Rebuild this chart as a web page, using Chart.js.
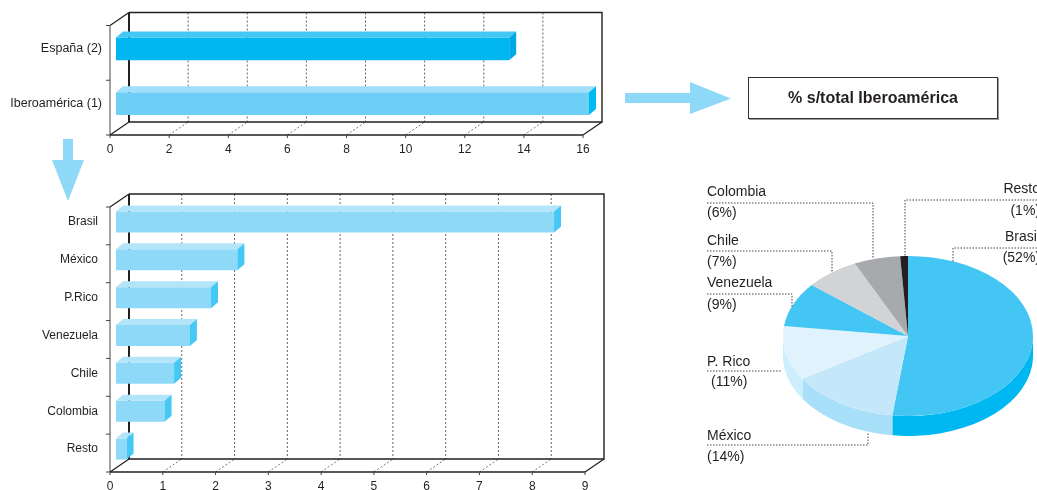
<!DOCTYPE html>
<html>
<head>
<meta charset="utf-8">
<script src="https://cdn.jsdelivr.net/npm/chart.js@4.4.1/dist/chart.umd.min.js"></script>
<style>
  html, body { margin: 0; padding: 0; background: #fff; overflow: hidden; }
  #wrap { position: relative; width: 1037px; height: 490px; overflow: hidden; }
  #wrap canvas, #wrap svg { position: absolute; left: 0; top: 0; }
  .title {
    position: absolute; left: 748px; top: 77px; width: 250px; height: 42px;
    box-sizing: border-box; border: 1px solid #333; background: #fff;
    font: bold 16px "Liberation Sans", Arial, sans-serif; color: #231f20;
    display: flex; align-items: center; justify-content: center;
    box-shadow: 1px 1px 0 #999;
  }
</style>
</head>
<body>
<div id="wrap">
  <svg width="1037" height="490">
    <polygon points="625,93 690,93 690,82 731,98.5 690,114 690,103 625,103" fill="#8ed8f8"/>
    <polygon points="63,139 73,139 73,160 84,160 68,201 52,160 63,160" fill="#8ed8f8"/>
  </svg>
  <canvas id="totals" width="1037" height="490"></canvas>
  <canvas id="countries" width="1037" height="500"></canvas>
  <canvas id="shares" width="1037" height="490"></canvas>
  <div class="title">% s/total Iberoamérica</div>
</div>
<script>
// ---- data ----
const totalLabels = ['España (2)', 'Iberoamérica (1)'];
const totalValues = [13.3, 16.0];
const totalAxisMax = 16;
const totalAxisStep = 2;

const countryLabels = ['Brasil', 'México', 'P.Rico', 'Venezuela', 'Chile', 'Colombia', 'Resto'];
const countryValues = [8.3, 2.3, 1.8, 1.4, 1.1, 0.92, 0.2];
const countryAxisMax = 9;
const countryAxisStep = 1;

const shareLabels = ['Brasil', 'México', 'P. Rico', 'Venezuela', 'Chile', 'Colombia', 'Resto'];
const shareValues = [52, 14, 11, 9, 7, 6, 1];

// ---- styling ----
const FONT = '"Liberation Sans", Arial, sans-serif';
const INK = '#231f20';
const FRONT = { dx: -6, dy: 4 };   // front plane relative to bar faces
const BACK = { dx: 13, dy: -9 };   // back wall relative to bar faces
const BAR_DEPTH = { dx: 7, dy: -6 };

function line(ctx, pts, width, color, dash) {
  ctx.save();
  ctx.beginPath();
  ctx.moveTo(pts[0][0], pts[0][1]);
  for (let i = 1; i < pts.length; i++) ctx.lineTo(pts[i][0], pts[i][1]);
  ctx.lineWidth = width;
  ctx.strokeStyle = color;
  ctx.setLineDash(dash || []);
  ctx.stroke();
  ctx.restore();
}

function poly(ctx, pts, color) {
  ctx.beginPath();
  ctx.moveTo(pts[0][0], pts[0][1]);
  for (let i = 1; i < pts.length; i++) ctx.lineTo(pts[i][0], pts[i][1]);
  ctx.closePath();
  ctx.fillStyle = color;
  ctx.fill();
}

// 3D box frame around a horizontal bar chart, and top/side faces on each bar
function box3d(topColors, sideColors) {
  return {
    id: 'box3d',
    beforeDatasetsDraw(chart) {
      const ctx = chart.ctx, ca = chart.chartArea, xs = chart.scales.x;
      const n = chart.data.labels.length;
      const Lf = ca.left + FRONT.dx, Rf = ca.right + FRONT.dx;
      const Tf = ca.top + FRONT.dy, Bf = ca.bottom + FRONT.dy;
      const Lb = ca.left + BACK.dx, Rb = ca.right + BACK.dx;
      const Tb = ca.top + BACK.dy, Bb = ca.bottom + BACK.dy;
      // grid lines on the back wall and the floor
      xs.ticks.forEach(t => {
        if (t.value <= xs.min || t.value >= xs.max) return;
        const p = xs.getPixelForValue(t.value);
        line(ctx, [[p + BACK.dx, Tb], [p + BACK.dx, Bb]], 1, '#666', [2, 2]);
        line(ctx, [[p + FRONT.dx, Bf], [p + BACK.dx, Bb]], 1, '#777', [2, 2]);
      });
      // back wall
      line(ctx, [[Lb, Bb], [Rb, Bb], [Rb, Tb], [Lb, Tb]], 1.4, INK);
      line(ctx, [[Lb, Tb], [Lb, Bb]], 2, INK);
      // side and floor edges
      line(ctx, [[Lf, Tf], [Lb, Tb]], 1.2, INK);
      line(ctx, [[Lf, Bf], [Lb, Bb]], 1.2, INK);
      line(ctx, [[Rf, Bf], [Rb, Bb]], 1.2, INK);
      line(ctx, [[Lf, Tf], [Lf, Bf]], 1, '#444');
      line(ctx, [[Lf, Bf], [Rf, Bf]], 1.5, INK);
      // tick marks
      for (let i = 0; i <= n; i++) {
        const y = Tf + i * (ca.height / n);
        line(ctx, [[Lf - 4, y], [Lf, y]], 1, '#444');
      }
      xs.ticks.forEach(t => {
        const p = xs.getPixelForValue(t.value) + FRONT.dx;
        line(ctx, [[p, Bf], [p, Bf + 3]], 1, '#444');
      });
    },
    afterDatasetsDraw(chart) {
      const ctx = chart.ctx;
      chart.getDatasetMeta(0).data.forEach((el, i) => {
        const { x, y, base, height } = el.getProps(['x', 'y', 'base', 'height'], true);
        const l = Math.min(x, base), r = Math.max(x, base);
        const t = y - height / 2, b = y + height / 2;
        const dx = BAR_DEPTH.dx, dy = BAR_DEPTH.dy;
        poly(ctx, [[l, t], [r, t], [r + dx, t + dy], [l + dx, t + dy]], topColors[i % topColors.length]);
        poly(ctx, [[r, t], [r + dx, t + dy], [r + dx, b + dy], [r, b]], sideColors[i % sideColors.length]);
      });
    }
  };
}

function barConfig(labels, values, o) {
  return {
    type: 'bar',
    data: {
      labels: labels,
      datasets: [{
        data: values,
        backgroundColor: o.face,
        borderWidth: 0,
        barPercentage: 1,
        categoryPercentage: o.catPct
      }]
    },
    options: {
      indexAxis: 'y',
      responsive: false,
      animation: false,
      events: [],
      layout: { padding: { top: o.top, right: o.right, bottom: o.bottom, left: 0 } },
      plugins: { legend: { display: false }, tooltip: { enabled: false } },
      scales: {
        x: {
          type: 'linear', min: 0, max: o.max,
          ticks: { stepSize: o.step, autoSkip: false, maxRotation: 0, color: INK,
                   font: { family: FONT, size: 12 }, padding: o.xPad, labelOffset: FRONT.dx },
          grid: { display: false, drawTicks: false },
          border: { display: false },
          afterFit(s) { s.height = o.xHeight; }
        },
        y: {
          ticks: { color: INK, font: { family: FONT, size: o.yFont }, padding: o.yPad },
          grid: { display: false, drawTicks: false },
          border: { display: false },
          afterFit(s) { s.width = 116; }
        }
      }
    },
    plugins: [box3d(o.topFace, o.sideFace)]
  };
}

new Chart(document.getElementById('totals'), barConfig(totalLabels, totalValues, {
  max: totalAxisMax, step: totalAxisStep,
  face: ['#00b6f0', '#6dcff6'], topFace: ['#45c7f3', '#a0def9'], sideFace: ['#00a9e6', '#00b9f2'],
  catPct: 23 / 55, top: 21, right: 448, bottom: 319, xHeight: 40, xPad: 11, yPad: 14, yFont: 12.5
}));

new Chart(document.getElementById('countries'), barConfig(countryLabels, countryValues, {
  max: countryAxisMax, step: countryAxisStep,
  face: ['#8ed8f8'], topFace: ['#b3e5fa'], sideFace: ['#45c8f4'],
  catPct: 21 / 37.86, top: 203, right: 446, bottom: 0, xHeight: 32, xPad: 11.5, yPad: 18, yFont: 12
}));

// ---- pie with extruded rim ----
const pieTop = ['#43c6f4', '#c4e8f9', '#e0f3fc', '#43c6f4', '#d1d3d4', '#a7a9ac', '#231f20'];
const pieSide = ['#00b8f1', '#a8e0fa', '#cdeefc', '#00b8f1', '#b5b7b9', '#8c8e91', '#000000'];
const TILT = 0.64;
const RIM = 20;

// callout layout: text anchor and leader path for each slice, in slice order
const callouts = [
  { x: 1040, align: 'right', nameY: 237, pctY: 258, path: [[1037, 248], [953, 248], [953, 262]] },
  { x: 707, align: 'left', nameY: 436, pctY: 457, path: [[707, 445], [868, 445], [868, 433]] },
  { x: 707, pctX: 711, align: 'left', nameY: 362, pctY: 382, path: [[707, 371], [782, 371]] },
  { x: 707, align: 'left', nameY: 283, pctY: 305, path: [[707, 294], [792, 294], [792, 307]] },
  { x: 707, align: 'left', nameY: 241, pctY: 262, path: [[707, 251], [832, 251], [832, 272]] },
  { x: 707, align: 'left', nameY: 192, pctY: 213, path: [[707, 203], [873, 203], [873, 259]] },
  { x: 1040, align: 'right', nameY: 189, pctY: 211, path: [[1037, 200], [905, 200], [905, 256]] }
];

const pie3d = {
  id: 'pie3d',
  beforeDatasetsDraw(chart) {
    const ctx = chart.ctx;
    const arcs = chart.getDatasetMeta(0).data;
    const { x: cx, y: cy, outerRadius: r } = arcs[0].getProps(['x', 'y', 'outerRadius'], true);
    ctx.save();
    ctx.translate(cx, cy);
    ctx.scale(1, TILT);
    ctx.translate(-cx, -cy);
    const t = RIM / TILT;
    arcs.forEach((a, i) => {
      const { startAngle, endAngle } = a.getProps(['startAngle', 'endAngle'], true);
      const s = Math.max(startAngle, 0), e = Math.min(endAngle, Math.PI);
      if (e <= s) return;
      ctx.beginPath();
      ctx.arc(cx, cy, r, s, e);
      ctx.arc(cx, cy + t, r, e, s, true);
      ctx.closePath();
      ctx.fillStyle = pieSide[i];
      ctx.fill();
    });
  },
  afterDatasetsDraw(chart) {
    const ctx = chart.ctx;
    ctx.restore();
    ctx.save();
    ctx.font = '14px ' + FONT;
    ctx.fillStyle = INK;
    ctx.textBaseline = 'middle';
    chart.data.labels.forEach((name, i) => {
      const c = callouts[i];
      line(ctx, c.path, 1, '#444', [1.5, 1.5]);
      ctx.textAlign = c.align;
      ctx.fillText(name, c.x, c.nameY);
      ctx.fillText('(' + chart.data.datasets[0].data[i] + '%)', c.pctX || c.x, c.pctY);
    });
    ctx.restore();
  }
};

new Chart(document.getElementById('shares'), {
  type: 'pie',
  data: {
    labels: shareLabels,
    datasets: [{ data: shareValues, backgroundColor: pieTop, borderWidth: 0 }]
  },
  options: {
    responsive: false,
    animation: false,
    events: [],
    layout: { padding: { left: 783, right: 4, top: 211, bottom: 29 } },
    plugins: { legend: { display: false }, tooltip: { enabled: false } }
  },
  plugins: [pie3d]
});
</script>
</body>
</html>
